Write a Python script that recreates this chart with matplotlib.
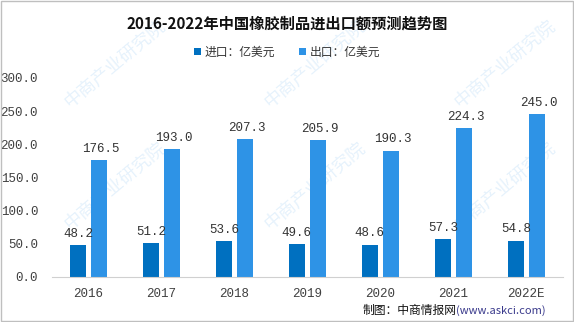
import numpy as np
import matplotlib.pyplot as plt
from matplotlib.patches import Rectangle

plt.rcParams['font.family'] = ['Noto Sans CJK SC', 'DejaVu Sans']

years = ["2016", "2017", "2018", "2019", "2020", "2021", "2022E"]
imports = [48.2, 51.2, 53.6, 49.6, 48.6, 57.3, 54.8]
exports = [176.5, 193.0, 207.3, 205.9, 190.3, 224.3, 245.0]
yticks = [0, 50, 100, 150, 200, 250, 300]

c_imp = "#0070C0"
c_exp = "#2E93E6"
num_font = "Liberation Mono"

fig = plt.figure(figsize=(5.74, 3.22), dpi=100)
ax = fig.add_axes([0.0906, 0.1398, 0.890, 0.618])

x = np.arange(len(years))
w = 0.22
off = 0.145
ax.bar(x - off, imports, width=w, color=c_imp, label="进口：亿美元", zorder=2)
ax.bar(x + off, exports, width=w, color=c_exp, label="出口：亿美元", zorder=2)

for i in range(len(years)):
    ax.text(x[i] - off, imports[i] + 8, f"{imports[i]:.1f}", ha="center", va="bottom",
            fontsize=9, family=num_font, color="#333333", zorder=3)
    ax.text(x[i] + off + 0.02, exports[i] + 8, f"{exports[i]:.1f}", ha="center", va="bottom",
            fontsize=9, family=num_font, color="#333333", zorder=3)

ax.set_xlim(-0.5, len(years) - 0.5)
ax.set_ylim(0, 300)
ax.set_yticks(yticks)
ax.set_yticklabels([f"{v:.1f}" for v in yticks], family=num_font, fontsize=9, color="#404040")
ax.set_xticks(x)
ax.set_xticklabels(years, family=num_font, fontsize=9, color="#404040")
ax.tick_params(axis="both", length=0)
ax.tick_params(axis="y", pad=10)
ax.tick_params(axis="x", pad=8)
for s in ["top", "right", "left"]:
    ax.spines[s].set_visible(False)
ax.spines["bottom"].set_color("#D0D0D0")

# Title and legend
fig.text(0.5, 0.928, "2016-2022年中国橡胶制品进出口额预测趋势图", ha="center", va="center",
         fontsize=11, fontweight="bold", color="#111111")
fig.legend(loc="center", bbox_to_anchor=(0.5, 0.838), ncol=2, frameon=False,
           fontsize=8.5, handlelength=0.6, handleheight=0.6, columnspacing=2.0,
           handletextpad=0.3, labelcolor="#333333")

# Footer
fig.text(0.795, 0.035, "制图：中商情报网", ha="right", va="center", fontsize=8.5, color="#111111")
fig.text(0.795, 0.035, "(www.askci.com)", ha="left", va="center", fontsize=8, color="#3A3A8C")

# Watermarks
for (wx, wy) in [(0.2, 0.8), (0.55, 0.8), (0.88, 0.8), (0.2, 0.42), (0.55, 0.42), (0.88, 0.42)]:
    fig.text(wx, wy, "中商产业研究院", ha="center", va="center", rotation=40,
             fontsize=13, color="#2E93E6", alpha=0.12, zorder=0)

# Border
fig.patches.append(Rectangle((0.001, 0.002), 0.997, 0.995, transform=fig.transFigure,
                             fill=False, edgecolor="#BFBFBF", linewidth=1))

fig.savefig("out.png", dpi=100)
